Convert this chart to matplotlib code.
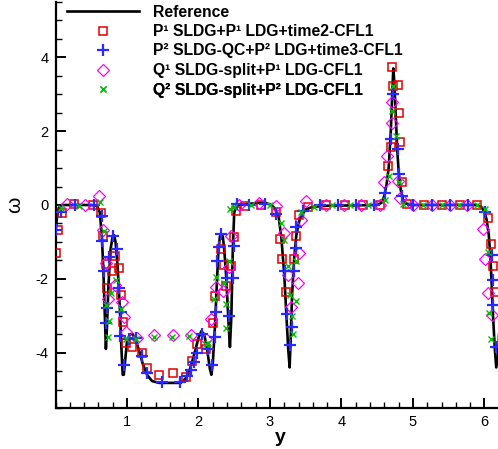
import matplotlib
matplotlib.use("Agg")
import matplotlib.pyplot as plt
from matplotlib.ticker import MultipleLocator, FixedLocator
import numpy as np

plt.rcParams['font.family'] = ['Liberation Sans', 'DejaVu Sans']
plt.rcParams['axes.unicode_minus'] = False

# ---------------- data ----------------
ref_y = [0.0, 0.02, 0.04, 0.07, 0.1, 0.3, 0.5, 0.58, 0.62, 0.65, 0.67, 0.69, 0.705, 0.72, 0.74, 0.77,
         0.8, 0.82, 0.84, 0.87, 0.9, 0.92, 0.94, 0.955, 0.975, 1.0, 1.04, 1.08, 1.12, 1.17, 1.22, 1.28,
         1.35, 1.45, 1.6, 1.75, 1.82, 1.88, 1.94, 2.0, 2.04, 2.08, 2.12, 2.16, 2.18, 2.2, 2.23, 2.26,
         2.28, 2.3, 2.32, 2.34, 2.36, 2.39, 2.42, 2.44, 2.46, 2.48, 2.5, 2.53, 2.56, 2.7, 2.85, 2.95,
         3.02, 3.08, 3.12, 3.16, 3.2, 3.23, 3.255, 3.275, 3.29, 3.31, 3.34, 3.37, 3.42, 3.5, 3.6, 3.8,
         4.2, 4.5, 4.56, 4.6, 4.63, 4.66, 4.69, 4.71, 4.725, 4.74, 4.76, 4.78, 4.8, 4.83, 4.86, 4.9,
         5.0, 5.9, 5.96, 6.0, 6.03, 6.06, 6.08, 6.1, 6.12, 6.145, 6.165, 6.19, 6.22, 6.25, 6.283]
ref_w = [-0.75, -0.35, -0.1, -0.01, 0.0, 0.0, 0.0, -0.02, -0.2, -0.9, -1.8, -3.0, -3.9, -3.3, -2.2, -1.2,
         -0.85, -0.82, -1.0, -1.7, -2.8, -3.8, -4.6, -4.6, -4.2, -3.7, -3.5, -3.5, -3.65, -3.95, -4.3, -4.6,
         -4.77, -4.82, -4.82, -4.82, -4.7, -4.45, -4.05, -3.6, -3.42, -3.5, -3.9, -4.45, -4.6, -4.3, -3.3, -2.0,
         -1.2, -0.85, -0.78, -0.85, -1.2, -2.0, -3.2, -3.85, -3.0, -1.2, -0.2, -0.03, 0.0, 0.03, 0.06, 0.05,
         0.0, -0.12, -0.3, -0.9, -1.9, -3.0, -3.9, -4.4, -3.6, -2.4, -1.4, -0.8, -0.35, -0.12, -0.05, -0.02,
         -0.01, 0.0, 0.06, 0.25, 0.55, 1.0, 2.0, 3.0, 3.7, 3.3, 2.4, 1.5, 0.9, 0.4, 0.15, 0.04,
         0.0, 0.0, -0.06, -0.18, -0.4, -0.8, -1.3, -2.1, -3.0, -3.9, -4.4, -4.1, -2.8, -1.5, -0.75]

p1_y = [0.007, 0.04, 0.087, 0.26, 0.52, 0.636, 0.67, 0.706, 0.725, 0.795, 0.83, 0.89, 0.92, 0.95, 0.986,
        1.075, 1.21, 1.28, 1.45, 1.64, 1.825, 1.905, 1.975, 2.105, 2.20, 2.23, 2.32, 2.35, 2.39, 2.46,
        2.50, 2.525, 2.65, 2.88, 3.09, 3.14, 3.17, 3.22, 3.335, 3.36, 3.40, 3.535, 3.79, 4.05, 4.30,
        4.54, 4.655, 4.69, 4.71, 4.725, 4.795, 4.81, 4.815, 4.84, 4.91, 5.15, 5.40, 5.66, 5.90, 6.045,
        6.09, 6.12, 6.15]
p1_w = [-1.30, -0.69, -0.22, 0.03, 0.0, -0.22, -0.83, -1.60, -2.25, -1.80, -1.37, -1.70, -2.43, -3.18, -3.74,
        -3.85, -4.0, -4.42, -4.6, -4.55, -4.67, -4.24, -3.77, -3.90, -3.20, -2.46, -1.19, -1.63, -2.20, -1.66,
        -0.87, -0.15, -0.02, 0.0, -0.2, -0.92, -1.47, -2.36, -1.46, -0.83, -0.27, -0.06, 0.0, 0.0, 0.0,
        0.0, 1.06, 1.56, 3.75, 3.22, 3.24, 2.48, 1.71, 0.63, 0.03, 0.0, 0.0, 0.0, 0.0, -0.35,
        -1.05, -1.64, -2.36]

p2_y = [0.0, 0.08, 0.27, 0.54, 0.645, 0.655, 0.675, 0.706, 0.72, 0.755, 0.81, 0.86, 0.888, 0.915, 0.905,
        0.955, 1.03, 1.12, 1.205, 1.28, 1.49, 1.74, 1.835, 1.89, 1.94, 1.975, 2.045, 2.14, 2.185, 2.23,
        2.245, 2.265, 2.285, 2.32, 2.395, 2.42, 2.48, 2.50, 2.545, 2.70, 2.93, 3.09, 3.21, 3.245, 3.28,
        3.31, 3.34, 3.36, 3.37, 3.465, 3.70, 3.955, 4.20, 4.455, 4.61, 4.69, 4.72, 4.79, 4.80, 4.84,
        5.0, 5.26, 5.52, 5.77, 6.01, 6.10, 6.115, 6.12, 6.16]
p2_w = [-0.69, -0.18, 0.0, 0.0, -0.30, -0.98, -1.78, -3.20, -2.78, -1.41, -0.85, -1.18, -2.25, -2.91, -3.55,
        -4.34, -3.64, -3.61, -4.1, -4.55, -4.79, -4.79, -4.64, -4.48, -4.25, -4.0, -3.50, -3.9, -4.34, -3.58,
        -2.91, -1.52, -1.13, -0.79, -1.99, -3.0, -1.98, -1.12, 0.03, 0.0, 0.03, -0.24, -1.79, -2.95, -3.80,
        -3.31, -1.78, -1.17, -0.60, -0.15, 0.0, 0.0, 0.0, 0.0, 0.33, 1.8, 3.0, 1.51, 0.85, 0.25,
        0.0, 0.0, 0.0, 0.0, -0.2, -1.35, -2.02, -2.72, -3.85]

q1_y = [0.157, 0.41, 0.61, 0.665, 0.70, 0.74, 0.83, 0.935, 0.955, 0.986, 1.135, 1.38, 1.64, 1.89, 2.11,
        2.175, 2.245, 2.34, 2.43, 2.45, 2.57, 2.85, 3.09, 3.20, 3.25, 3.30, 3.39, 3.405, 3.44, 3.50,
        3.79, 4.03, 4.28, 4.54, 4.60, 4.64, 4.70, 4.70, 4.79, 4.82, 5.0, 5.26, 5.52, 5.75, 5.98,
        6.01, 6.05, 6.10]
q1_w = [0.03, 0.0, 0.24, -0.69, -1.57, -2.54, -2.18, -2.63, -3.04, -3.45, -3.60, -3.53, -3.53, -3.53, -3.64,
        -3.10, -2.22, -2.34, -1.68, -0.83, 0.0, 0.05, -0.02, -0.77, -1.91, -2.75, -2.10, -1.29, -0.40, 0.10,
        0.0, 0.0, 0.0, 0.0, 0.61, 1.32, 2.22, 2.78, 0.66, 0.18, 0.0, 0.0, 0.0, 0.0, -0.65,
        -1.46, -2.38, -2.99]

q2_y = [0.08, 0.33, 0.62, 0.685, 0.706, 0.74, 0.75, 0.775, 0.84, 0.92, 0.986, 1.13, 1.38, 1.63, 1.87,
        2.10, 2.14, 2.22, 2.245, 2.35, 2.385, 2.39, 2.43, 2.44, 2.49, 2.74, 3.0, 3.15, 3.20, 3.25,
        3.28, 3.31, 3.325, 3.37, 3.37, 3.44, 3.62, 3.87, 4.12, 4.37, 4.61, 4.67, 4.70, 4.725, 4.76,
        4.81, 4.86, 5.14, 5.40, 5.65, 5.89, 6.01, 6.05, 6.07, 6.09]
q2_w = [-0.09, -0.04, 0.08, -0.70, -2.72, -3.58, -3.13, -2.38, -2.02, -2.82, -3.62, -3.64, -3.58, -3.58, -3.55,
        -3.76, -3.73, -2.54, -1.96, -2.12, -2.68, -3.34, -1.51, -0.10, -0.06, 0.0, 0.0, -0.49, -0.96, -1.66,
        -2.43, -3.0, -3.49, -2.61, -1.53, -0.2, -0.06, 0.0, 0.0, 0.0, 0.14, 0.79, 2.55, 3.22, 1.87,
        0.61, 0.03, 0.0, 0.0, 0.0, 0.0, -0.11, -1.28, -2.92, -3.64]

labels = ["Reference",
          "P¹ SLDG+P¹ LDG+time2-CFL1",
          "P² SLDG-QC+P² LDG+time3-CFL1",
          "Q¹ SLDG-split+P¹ LDG-CFL1",
          "Q² SLDG-split+P² LDG-CFL1"]

# ---------------- figure ----------------
W, H = 498, 449
fig = plt.figure(figsize=(W / 100, H / 100), dpi=100)
x0, y0 = 55.5, 41.0
ax = fig.add_axes([x0 / W, y0 / H, 449.2 / W, 406.0 / H])
ax.set_xlim(0, 2 * np.pi)
ax.set_ylim(-5.5, 5.5)

h_ref, = ax.plot(ref_y, ref_w, color='black', lw=1.9, zorder=2)
h1, = ax.plot(p1_y, p1_w, ls='none', marker='s', ms=6, mfc='none', mec='#e00000', mew=1.1, zorder=3)
h2, = ax.plot(p2_y, p2_w, ls='none', marker='+', ms=9, mec='#2a2aff', mew=1.6, zorder=4)
h3, = ax.plot(q1_y, q1_w, ls='none', marker='D', ms=6, mfc='none', mec='#ff00ff', mew=0.9, zorder=3)
h4, = ax.plot(q2_y, q2_w, ls='none', marker='x', ms=4.5, mec='#00c000', mew=1.0, zorder=5)

for s in ['top', 'right']:
    ax.spines[s].set_visible(False)
for s in ['left', 'bottom']:
    ax.spines[s].set_linewidth(1.6)

ax.xaxis.set_major_locator(FixedLocator([1, 2, 3, 4, 5, 6]))
ax.xaxis.set_minor_locator(MultipleLocator(0.2))
ax.yaxis.set_major_locator(FixedLocator([-4, -2, 0, 2, 4]))
ax.yaxis.set_minor_locator(MultipleLocator(0.5))
ax.tick_params(which='both', direction='in', top=False, right=False)
ax.tick_params(which='major', length=7, width=1.4, labelsize=10.5, pad=5)
ax.tick_params(which='minor', length=4, width=1.0)

ax.set_xlabel('y', fontsize=14, fontweight='bold', labelpad=0)
ax.set_ylabel('ω', fontsize=15, rotation=90, labelpad=8)

# legend: one row per entry so each row sits at the reference's position
handles = [h_ref, h1, h2, h3, h4]
row_centers = [12.3, 31.5, 51.0, 70.5, 90.0]
for hnd, lab, yc in zip(handles, labels, row_centers):
    lg = ax.legend([hnd], [lab], loc='center left',
                   bbox_to_anchor=(66.5 / W, 1 - yc / H), bbox_transform=fig.transFigure,
                   frameon=False, handlelength=4.6, handletextpad=0.88,
                   borderaxespad=0, borderpad=0, numpoints=1,
                   prop={'family': 'Liberation Sans', 'weight': 'bold', 'size': 11.3})
    ax.add_artist(lg)

fig.savefig('out.png', dpi=100)
